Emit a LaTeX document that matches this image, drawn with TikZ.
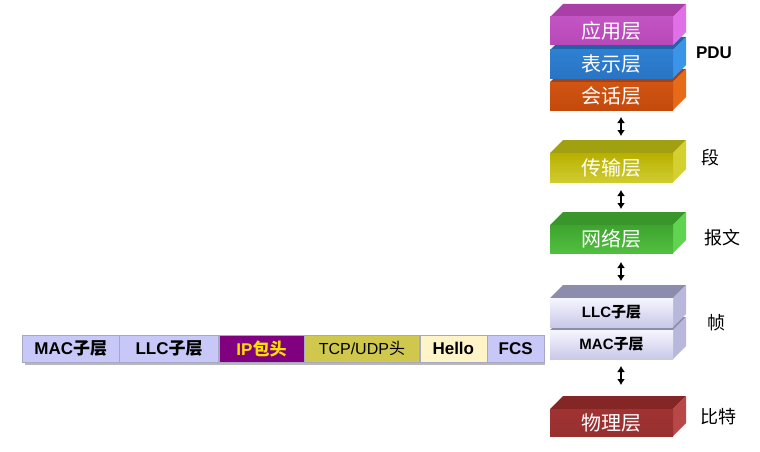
\documentclass[tikz,border=0pt]{standalone}
\usepackage{fontspec}
\setmainfont{Liberation Sans}
\newfontfamily\cjk{Noto Sans CJK SC}
\usetikzlibrary{arrows.meta}
\definecolor{appF}{HTML}{C354C3}\definecolor{appFb}{HTML}{B848B8}\definecolor{appT}{HTML}{A840A8}\definecolor{appR}{HTML}{E070E8}
\definecolor{preF}{HTML}{2E80D2}\definecolor{preFb}{HTML}{2A74C4}\definecolor{preT}{HTML}{2262A8}\definecolor{preR}{HTML}{3A95E8}
\definecolor{sesF}{HTML}{D05412}\definecolor{sesFb}{HTML}{C44A0C}\definecolor{sesT}{HTML}{A84010}\definecolor{sesR}{HTML}{E66A18}
\definecolor{traF}{HTML}{B8B000}\definecolor{traFb}{HTML}{D0CC30}\definecolor{traT}{HTML}{A0A010}\definecolor{traR}{HTML}{D4D030}
\definecolor{netF}{HTML}{3EA42E}\definecolor{netFb}{HTML}{50C040}\definecolor{netT}{HTML}{38962A}\definecolor{netR}{HTML}{60D450}
\definecolor{llcF}{HTML}{F6F6FF}\definecolor{llcFb}{HTML}{C8C8E8}\definecolor{llcT}{HTML}{8C8CAC}\definecolor{llcR}{HTML}{B8B8DC}
\definecolor{phyF}{HTML}{A03232}\definecolor{phyFb}{HTML}{983030}\definecolor{phyT}{HTML}{842626}\definecolor{phyR}{HTML}{B84848}
\definecolor{lav}{HTML}{C8C8F8}\definecolor{ipc}{HTML}{800080}\definecolor{ipt}{HTML}{FFE000}
\definecolor{tcpc}{HTML}{D0C84C}\definecolor{helc}{HTML}{FFF4C8}\definecolor{sepc}{HTML}{A8A8C4}
\newcommand\zh[1]{{\cjk #1}}
% name, y1, y2, front top colour, front bottom colour, top face, right face, text
\newcommand\blk[8]{%
  \fill[#6] (550,#2) -- (563,#2-13) -- (686,#2-13) -- (673,#2) -- cycle;
  \fill[#7] (673,#2) -- (686,#2-13) -- (686,#3-13) -- (673,#3) -- cycle;
  \node[blockface, top color=#4, bottom color=#5, minimum height={(#3-#2)*1pt}] (#1) at (611.5,{(#2+#3)/2}) {#8};
}
\begin{document}
\begin{tikzpicture}[x=1pt,y=-1pt,
  blockface/.style={rectangle, inner sep=0pt, minimum width=123pt, draw=none},
  wtxt/.style={text=white, font=\cjk\fontsize{20}{20}\selectfont},
  btxt/.style={text=black, font=\bfseries\fontsize{15}{15}\selectfont},
  side/.style={font=\cjk\fontsize{18}{18}\selectfont, anchor=center},
  dbl/.style={{Latex[length=6pt,width=8pt]}-{Latex[length=6pt,width=8pt]}, line width=2.4pt},
  cell/.style={rectangle, anchor=west, inner sep=0pt, minimum height=27pt, draw=sepc, line width=0.4pt},
  ctxt/.style={font=\bfseries\fontsize{17}{17}\selectfont}]
\useasboundingbox (0,0) rectangle (760,452);
\fill[white] (0,0) rectangle (760,452);
% top stack
\blk{ses}{82}{110}{sesF}{sesFb}{sesT}{sesR}{\phantom{x}}
\node[wtxt] at (ses) {会话层};
\blk{pre}{50}{78}{preF}{preFb}{preT}{preR}{\phantom{x}}
\node[wtxt] at (pre) {表示层};
\blk{app}{17}{45}{appF}{appFb}{appT}{appR}{\phantom{x}}
\node[wtxt] at (app) {应用层};
\blk{tra}{153}{182}{traF}{traFb}{traT}{traR}{\phantom{x}}
\node[wtxt] at (tra) {传输层};
\blk{net}{225}{253}{netF}{netFb}{netT}{netR}{\phantom{x}}
\node[wtxt] at (net) {网络层};
\blk{mac}{330}{359}{llcF}{llcFb}{llcT}{llcR}{\phantom{x}}
\node[btxt] at (mac) {MAC\zh{子层}};
\blk{llc}{298}{327}{llcF}{llcFb}{llcT}{llcR}{\phantom{x}}
\node[btxt] at (llc) {LLC\zh{子层}};
\blk{phy}{409}{436}{phyF}{phyFb}{phyT}{phyR}{\phantom{x}}
\node[wtxt] at (phy) {物理层};
% arrows
\coordinate (a1) at (621,117); \coordinate (b1) at (621,136);
\coordinate (a2) at (621,190); \coordinate (b2) at (621,209);
\coordinate (a3) at (621,262); \coordinate (b3) at (621,281);
\coordinate (a4) at (621,366); \coordinate (b4) at (621,385);
\draw[dbl] (a1) -- (b1);
\draw[dbl] (a2) -- (b2);
\draw[dbl] (a3) -- (b3);
\draw[dbl] (a4) -- (b4);
% side labels
\node[font=\bfseries\fontsize{17}{17}\selectfont] (pdu) at (714,53) {PDU};
\node[side] (duan) at (710,158) {段};
\node[side] (baowen) at (722,238) {报文};
\node[side] (zhen) at (716,323) {帧};
\node[side] (bite) at (718,417) {比特};
% bottom frame row
\fill[black!28] (25,362) rectangle (545,365);
\fill[black!28] (542,338) rectangle (545,365);
\node[cell, fill=lav, minimum width=97pt, ctxt] (f1) at (22,348.5) {MAC\zh{子层}};
\node[cell, fill=lav, minimum width=99pt, ctxt] (f2) at (f1.east) {LLC\zh{子层}};
\node[cell, fill=ipc, minimum width=85pt, ctxt, text=ipt] (f3) at (f2.east) {IP{\cjk\bfseries 包头}};
\node[cell, fill=tcpc, minimum width=115pt, font=\fontsize{16}{16}\selectfont] (f4) at (f3.east) {TCP/UDP\zh{头}};
\node[cell, fill=helc, minimum width=67pt, ctxt] (f5) at (f4.east) {Hello};
\node[cell, fill=lav, minimum width=57pt, ctxt] (f6) at (f5.east) {FCS};
\end{tikzpicture}
\end{document}
